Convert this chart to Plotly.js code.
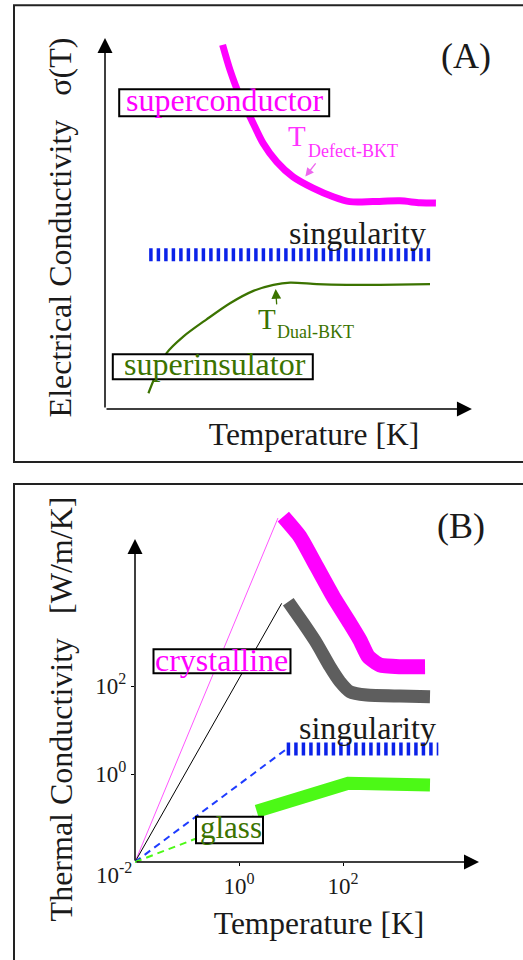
<!DOCTYPE html>
<html>
<head>
<meta charset="utf-8">
<script src="https://cdn.plot.ly/plotly-3.0.1.min.js"></script>
<style>html,body{margin:0;padding:0;background:#fff;}#plot{width:523px;height:960px;}</style>
</head>
<body>
<div id="plot"></div>
<script>
// ---------- Panel A (schematic, arbitrary linear units) ----------
const supercondT     = [31.7, 33.7, 36.4, 39.5, 42.6, 46.3, 50.7, 56.1, 61.5, 66.0, 72.2, 79.5, 84.9, 89.2];
const supercondSigma = [97.1, 90.4, 83.3, 77.1, 70.9, 65.9, 61.9, 58.9, 56.6, 55.3, 55.3, 55.5, 55.0, 54.9];
const superinsT      = [11.7, 13.5, 16.6, 21.1, 27.4, 33.7, 40.0, 45.4, 49.9, 57.1, 65.1, 74.1, 87.6];
const superinsSigma  = [4.2, 8.6, 14.9, 19.3, 23.9, 28.2, 31.5, 33.1, 33.7, 33.3, 33.1, 33.1, 33.3];
const singAT     = [11.9, 88.1];
const singASigma = [41.1, 41.1];

// ---------- Panel B (log-log, T in K, kappa in W/m/K) ----------
const crystT = [7.11, 14.9, 31.2, 65.0, 136, 212, 307, 515, 1250, 3780];
const crystK = [7.05e5, 2.47e5, 5.14e4, 1.07e4, 2660, 1110, 463, 300, 275, 275];
const grayT  = [8.87, 17.3, 31.2, 56.2, 87.5, 136, 286, 1250, 4710];
const grayK  = [8240, 2660, 933, 275, 125, 74.1, 62.4, 59.3, 57.1];
const crystLowT = [0.01, 5.62];
const crystLowK = [0.01, 6.58e5];
const grayLowT  = [0.01, 6.62];
const grayLowK  = [0.01, 7570];
const singLowT  = [0.01, 8.26];
const singLowK  = [0.01, 3.72];
const singBT    = [8.26, 6810];
const singBK    = [3.72, 3.72];
const glassLowT = [0.01, 2.19];
const glassLowK = [0.01, 0.115];
const glassT    = [2.19, 126, 4710];
const glassK    = [0.142, 0.615, 0.562];

const tickValsB  = [1, 100];
const tickTextB  = ['10<sup>0</sup>', '10<sup>2</sup>'];
const cornerText = '10<sup>-2</sup>';

const W = 523, H = 960;
const px = v => v / W;          // pixel -> paper x
const py = v => 1 - v / H;      // pixel -> paper y

const MAG = '#ff00ff', BLUE = '#0b22e8', DKGREEN = '#3b7300', LIME = '#4cf916', INK = '#1a1a1a';
const FONT = '"Liberation Serif", "Times New Roman", serif';

const traces = [
  // Panel A
  {x: singAT, y: singASigma, xaxis: 'x', yaxis: 'y', mode: 'lines',
   line: {color: BLUE, width: 13, dash: '3.5px,4px'}},
  {x: supercondT, y: supercondSigma, xaxis: 'x', yaxis: 'y', mode: 'lines',
   line: {color: MAG, width: 7, shape: 'spline', smoothing: 0.8}},
  {x: superinsT, y: superinsSigma, xaxis: 'x', yaxis: 'y', mode: 'lines',
   line: {color: DKGREEN, width: 2.2, shape: 'spline', smoothing: 0.8}},
  // Panel B
  {x: crystLowT, y: crystLowK, xaxis: 'x2', yaxis: 'y2', mode: 'lines', line: {color: '#ff55ff', width: 1}},
  {x: grayLowT, y: grayLowK, xaxis: 'x2', yaxis: 'y2', mode: 'lines', line: {color: '#000', width: 1}},
  {x: singLowT, y: singLowK, xaxis: 'x2', yaxis: 'y2', mode: 'lines', line: {color: '#1e3cff', width: 2, dash: '7px,5px'}},
  {x: glassLowT, y: glassLowK, xaxis: 'x2', yaxis: 'y2', mode: 'lines', line: {color: LIME, width: 2, dash: '7px,5px'}},
  {x: singBT, y: singBK, xaxis: 'x2', yaxis: 'y2', mode: 'lines', line: {color: BLUE, width: 13, dash: '3.5px,4px'}},
  {x: crystT, y: crystK, xaxis: 'x2', yaxis: 'y2', mode: 'lines',
   line: {color: MAG, width: 15, shape: 'spline', smoothing: 0.5}},
  {x: grayT, y: grayK, xaxis: 'x2', yaxis: 'y2', mode: 'lines',
   line: {color: '#5e5e5e', width: 13, shape: 'spline', smoothing: 0.5}},
  {x: glassT, y: glassK, xaxis: 'x2', yaxis: 'y2', mode: 'lines', line: {color: LIME, width: 13}}
];
traces.forEach(t => { t.hoverinfo = 'skip'; t.showlegend = false; });

// white label boxes with a black border (outer size in px), drawn above the curves
function box(cx, cy, w, h) {
  return {type: 'rect', layer: 'above', xref: 'paper', yref: 'paper',
          x0: px(cx - w / 2 + 1), x1: px(cx + w / 2 - 1), y0: py(cy + h / 2 - 1), y1: py(cy - h / 2 + 1),
          line: {color: '#000', width: 2}, fillcolor: '#fff'};
}
function label(text, cx, cy, size, color, xanchor) {
  return {xref: 'paper', yref: 'paper', x: px(cx), y: py(cy), xanchor: xanchor || 'center', yanchor: 'middle',
          text: text, showarrow: false, font: {family: FONT, size: size, color: color}};
}
function axisArrow(xref, yref, x0, y0, x1, y1) {
  return {xref: xref, yref: yref, axref: xref, ayref: yref, x: x1, y: y1, ax: x0, ay: y0, text: '',
          showarrow: true, arrowhead: 2, arrowsize: 2, arrowwidth: 1.5, arrowcolor: '#000'};
}

const annotations = [
  // axis arrows
  axisArrow('x', 'y', 0, 0, 0, 98.9),
  axisArrow('x', 'y', 0, 0, 98.9, 0),
  axisArrow('x2', 'y2', -2, -2, -2, 5.341),
  axisArrow('x2', 'y2', -2, -2, 4.615, -2),
  // labels
  label('superconductor', 224.7, 100.2, 32, MAG),
  label('superinsulator', 214.5, 364.2, 32, DKGREEN),
  label('crystalline', 221.2, 660.2, 32, MAG),
  label('glass', 230.8, 827.8, 31, DKGREEN),
  label('singularity', 357, 232.5, 32, INK),
  label('singularity', 367.2, 727.5, 32, INK),
  label('(A)', 465.7, 56.2, 36, INK),
  label('(B)', 460.8, 526.2, 36, INK),
  label('T', 285.7, 136.2, 29, '#ff33ff', 'left'),
  label('Defect-BKT', 306.3, 150.6, 18, '#ff33ff', 'left'),
  label('T', 255.7, 318.5, 29, DKGREEN, 'left'),
  label('Dual-BKT', 275, 332.2, 18, DKGREEN, 'left'),
  label(cornerText, 134, 873.9, 23, INK, 'right'),
  // T marker arrows
  {xref: 'x', yref: 'y', axref: 'x', ayref: 'y', x: 54.0, y: 62.0, ax: 57.1, ay: 65.9, text: '',
   showarrow: true, arrowhead: 2, arrowsize: 1.3, arrowwidth: 1.3, arrowcolor: '#ee66ee'},
  {xref: 'x', yref: 'y', axref: 'x', ayref: 'y', x: 46.0, y: 32.0, ax: 46.3, ay: 27.5, text: '',
   showarrow: true, arrowhead: 2, arrowsize: 1.5, arrowwidth: 1.3, arrowcolor: DKGREEN}
];

const frame = {type: 'rect', layer: 'below', xref: 'paper', yref: 'paper', line: {color: '#222', width: 2}, fillcolor: 'rgba(0,0,0,0)'};
const shapes = [
  Object.assign({}, frame, {x0: px(14), x1: 1.02, y0: py(462), y1: py(5.3)}),
  Object.assign({}, frame, {x0: px(14), x1: 1.02, y0: -0.02, y1: py(484)}),
  box(224.2, 102.8, 212, 29),
  box(212.8, 366.7, 202, 27),
  box(222, 661.3, 139, 26),
  box(229.5, 830, 69, 28.6)
];

const common = {showgrid: false, zeroline: false, showline: false, fixedrange: true};

const layout = {
  width: W, height: H,
  margin: {l: 0, r: 0, t: 0, b: 0},
  paper_bgcolor: '#fff', plot_bgcolor: 'rgba(0,0,0,0)',
  font: {family: FONT, color: INK},
  showlegend: false, hovermode: false,
  xaxis: Object.assign({}, common, {
    domain: [px(105), 1], range: [0, 112.67], anchor: 'free', position: py(409),
    showticklabels: false, ticks: '',
    title: {text: 'Temperature [K]', font: {family: FONT, size: 31.5, color: INK}, standoff: 13}
  }),
  yaxis: Object.assign({}, common, {
    domain: [py(421), py(34)], range: [-3.2, 100], anchor: 'x',
    showticklabels: false, ticks: '',
    title: {text: 'Electrical Conductivity\u00a0\u00a0\u00a0σ(T)', font: {family: FONT, size: 32, color: INK}, standoff: 22}
  }),
  xaxis2: Object.assign({}, common, {
    type: 'log', domain: [px(135), px(503)], range: [-2, 5.077], anchor: 'free', position: py(862),
    tickvals: tickValsB, ticktext: tickTextB, ticks: 'outside', ticklen: 3, tickcolor: '#000',
    tickfont: {family: FONT, size: 23, color: INK},
    title: {text: 'Temperature [K]', font: {family: FONT, size: 31.5, color: INK}, standoff: 14}
  }),
  yaxis2: Object.assign({}, common, {
    type: 'log', domain: [py(913), py(505)], range: [-3.159, 6.114], anchor: 'x2',
    tickvals: tickValsB, ticktext: tickTextB, ticks: 'outside', ticklen: 3, tickcolor: '#000',
    tickfont: {family: FONT, size: 23, color: INK},
    title: {text: 'Thermal Conductivity\u00a0\u00a0\u00a0[W/m/K]', font: {family: FONT, size: 32, color: INK}, standoff: 13}
  }),
  annotations: annotations,
  shapes: shapes
};

Plotly.newPlot('plot', traces, layout, {staticPlot: true, displayModeBar: false});
</script>
</body>
</html>
